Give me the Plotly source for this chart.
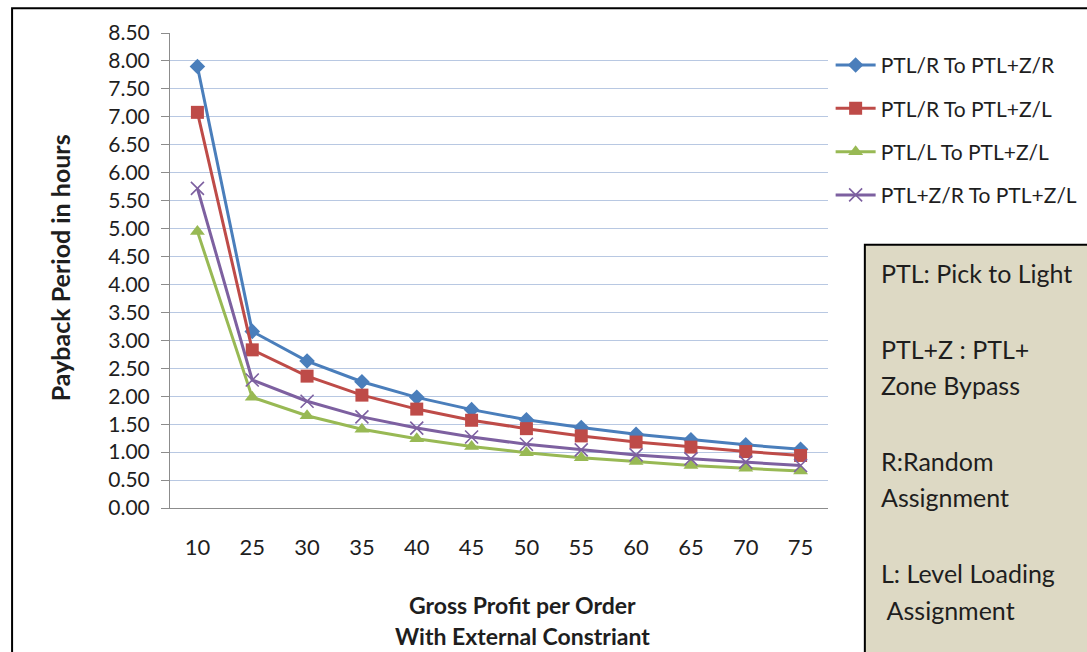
import plotly.graph_objects as go

# Gross profit per order (category axis)
profit = ["10", "25", "30", "35", "40", "45", "50", "55", "60", "65", "70", "75"]

# Payback period in hours for each conversion scenario
ptlr_to_ptlzr = [7.90, 3.16, 2.63, 2.26, 1.98, 1.76, 1.58, 1.44, 1.32, 1.22, 1.13, 1.05]
ptlr_to_ptlzl = [7.08, 2.83, 2.36, 2.02, 1.77, 1.57, 1.42, 1.29, 1.18, 1.09, 1.01, 0.94]
ptll_to_ptlzl = [4.95, 1.98, 1.65, 1.41, 1.24, 1.10, 0.99, 0.90, 0.83, 0.76, 0.71, 0.66]
ptlzr_to_ptlzl = [5.72, 2.29, 1.91, 1.63, 1.43, 1.27, 1.14, 1.04, 0.95, 0.88, 0.82, 0.76]

series_names = ["PTL/R To PTL+Z/R", "PTL/R To PTL+Z/L", "PTL/L To PTL+Z/L", "PTL+Z/R To PTL+Z/L"]
series_values = [ptlr_to_ptlzr, ptlr_to_ptlzl, ptll_to_ptlzl, ptlzr_to_ptlzl]
colors = ["#4A7EBB", "#BE4B48", "#98B954", "#7D60A0"]
symbols = ["diamond", "square", "triangle-up", "x-thin"]
sizes = [12, 13, 13, 13]

# Abbreviation key shown in the side box
key_lines = ["PTL: Pick to Light", "PTL+Z : PTL+", "Zone Bypass", "R:Random",
             "Assignment", "L: Level Loading", " Assignment"]

FONT = "Lato, Carlito, 'Liberation Sans', sans-serif"
TXT = "#1E1E1E"

fig = go.Figure()
for i, (name, vals) in enumerate(zip(series_names, series_values)):
    marker = dict(symbol=symbols[i], size=sizes[i], color=colors[i])
    if symbols[i] == "x-thin":
        marker["line"] = dict(color=colors[i], width=1.6)
    fig.add_trace(go.Scatter(
        x=profit, y=vals, name=name, mode="lines+markers",
        line=dict(color=colors[i], width=3),
        marker=marker, legendgroup=f"g{i}",
    ))

fig.update_layout(
    width=1087, height=652,
    margin=dict(l=170, r=259, t=33, b=144, autoexpand=False),
    paper_bgcolor="white", plot_bgcolor="white",
    font=dict(family=FONT, size=19, color=TXT),
    showlegend=True,
    legend=dict(x=1.004, y=0.975, xanchor="left", yanchor="top",
                font=dict(size=21, color=TXT),
                tracegroupgap=13, itemwidth=40, bgcolor="rgba(0,0,0,0)"),
    xaxis=dict(type="category", showgrid=False, showline=True,
               linecolor="#8C8C8C", linewidth=1, ticks="", ticklen=0,
               tickfont=dict(size=22), ticklabelstandoff=20,
               range=[-0.5, 11.5]),
    yaxis=dict(range=[0, 8.5], dtick=0.5, tickformat=".2f",
               showgrid=True, gridcolor="#B8C8E2", gridwidth=1,
               showline=True, linecolor="#8C8C8C", linewidth=1,
               ticks="outside", ticklen=8, tickcolor="#8C8C8C",
               tickfont=dict(size=21), ticklabelstandoff=7, zeroline=False),
)

# Axis titles
fig.add_annotation(text="<b>Payback Period in hours</b>", textangle=-90,
                   xref="paper", yref="paper", x=-0.167, y=0.505,
                   xanchor="center", yanchor="middle",
                   showarrow=False, font=dict(size=25))
fig.add_annotation(text="<b>Gross Profit per Order</b>",
                   xref="paper", yref="paper", x=0.535, y=(508 - 605) / 475,
                   xanchor="center", yanchor="middle",
                   showarrow=False, font=dict(size=23))
fig.add_annotation(text="<b>With External Constriant</b>",
                   xref="paper", yref="paper", x=0.535, y=(508 - 636) / 475,
                   xanchor="center", yanchor="middle",
                   showarrow=False, font=dict(size=23))

# Outer chart border
fig.add_shape(type="rect", xref="paper", yref="paper",
              x0=-0.24, x1=1.6, y0=-0.6, y1=1.052,
              line=dict(color="black", width=2), fillcolor="rgba(0,0,0,0)",
              layer="below")

# Abbreviation key box
fig.add_shape(type="rect", xref="paper", yref="paper",
              x0=1.056, x1=1.6, y0=-0.6, y1=0.554,
              line=dict(color="black", width=2), fillcolor="#DDD9C4")
key_y = [273, 349, 385, 461, 497, 573, 610]
for txt, py in zip(key_lines, key_y):
    fig.add_annotation(text=txt, xref="paper", yref="paper",
                       x=1.077, y=(508 - py) / 475, xanchor="left", yanchor="middle",
                       showarrow=False, font=dict(size=25, color=TXT))

fig.write_html("out.html")
